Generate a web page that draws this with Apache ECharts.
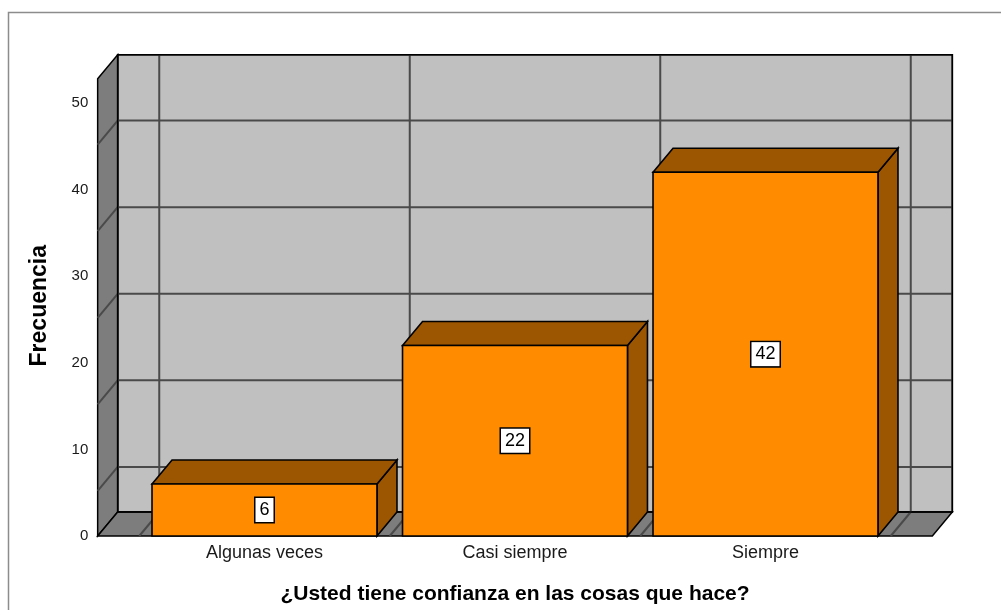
<!DOCTYPE html>
<html>
<head>
<meta charset="utf-8">
<script src="https://cdn.jsdelivr.net/npm/echarts@6/dist/echarts.min.js"></script>
<style>
  html, body { margin: 0; padding: 0; background: #fff; }
  #main { width: 1001px; height: 610px; }
</style>
</head>
<body>
<div id="main"></div>
<script>
// datos
var categorias = ['Algunas veces', 'Casi siempre', 'Siempre'];
var frecuencias = [6, 22, 42];
var yTicks = [0, 10, 20, 30, 40, 50];
// lineas de la pared del fondo
var lineasFondo = [5.2, 15.2, 25.2, 35.2, 45.2];
var techo = 52.8;

// estilo 3d
var DX = 20, DY = -24;
var PAD = 0.166;      // margen lateral del piso, en anchos de banda
var ANCHO = 0.898;    // ancho de barra, fraccion de banda
var colFrente = '#FF8C00', colLado = '#9C5500';
var colPared = '#C0C0C0', colLateral = '#7D7D7D', colGrid = '#4A4A4A';
var fuente = '"Liberation Sans", Arial, sans-serif';

var chart = echarts.init(document.getElementById('main'));

function poly(pts, fill, stroke, lw) {
  return { type: 'polygon', shape: { points: pts },
    style: { fill: fill, stroke: stroke, lineWidth: lw } };
}
function line(a, b) {
  return { type: 'line', shape: { x1: a[0], y1: a[1], x2: b[0], y2: b[1] },
    style: { stroke: colGrid, lineWidth: 2 } };
}

// paredes, piso y cuadricula
function fondo(params, api) {
  var band = api.size([1, 0])[0];
  var c0 = api.coord([0, 0]);
  var c2 = api.coord([categorias.length - 1, 0]);
  var L = c0[0] - band / 2 - PAD * band;
  var R = c2[0] + band / 2 + PAD * band;
  var y0 = c0[1];
  var yT = api.coord([0, techo])[1];
  var kids = [];
  kids.push(poly([[L + DX, yT + DY], [R + DX, yT + DY], [R + DX, y0 + DY], [L + DX, y0 + DY]], colPared, '#000', 1.5));
  kids.push(poly([[L, yT], [L + DX, yT + DY], [L + DX, y0 + DY], [L, y0]], colLateral, '#000', 1.5));
  kids.push(poly([[L, y0], [L + DX, y0 + DY], [R + DX, y0 + DY], [R, y0]], colLateral, '#000', 1.5));
  lineasFondo.forEach(function (v) {
    var y = api.coord([0, v])[1];
    kids.push(line([L + DX, y + DY], [R + DX, y + DY]));
    kids.push(line([L, y], [L + DX, y + DY]));
  });
  for (var i = 0; i <= categorias.length; i++) {
    var x = c0[0] + (i - 0.5) * band;
    kids.push(line([x + DX, yT + DY], [x + DX, y0 + DY]));
    kids.push(line([x, y0], [x + DX, y0 + DY]));
  }
  // re-trazar bordes
  kids.push({ type: 'rect', shape: { x: L + DX, y: yT + DY, width: R - L, height: y0 - yT },
    style: { fill: null, stroke: '#000', lineWidth: 1.5 } });
  return { type: 'group', children: kids };
}

function barra(params, api) {
  var i = api.value(0), v = api.value(1);
  var band = api.size([1, 0])[0];
  var top = api.coord([i, v]);
  var base = api.coord([i, 0]);
  var w = band * ANCHO;
  var x0 = top[0] - w / 2, x1 = top[0] + w / 2;
  var yT = top[1], yB = base[1];
  return {
    type: 'group',
    children: [
      poly([[x1, yT], [x1 + DX, yT + DY], [x1 + DX, yB + DY], [x1, yB]], colLado, '#000', 1.6),
      poly([[x0, yT], [x0 + DX, yT + DY], [x1 + DX, yT + DY], [x1, yT]], colLado, '#000', 1.6),
      { type: 'rect', shape: { x: x0, y: yT, width: w, height: yB - yT },
        style: { fill: colFrente, stroke: '#000', lineWidth: 1.6 } },
      { type: 'text', x: top[0], y: (yT + yB) / 2,
        style: { text: String(v), fill: '#000', font: '18px ' + fuente,
          align: 'center', verticalAlign: 'middle',
          backgroundColor: '#fff', borderColor: '#000', borderWidth: 1.5,
          padding: [4, 4, 2, 4] } }
    ]
  };
}

chart.setOption({
  animation: false,
  backgroundColor: '#fff',
  graphic: [
    { type: 'rect', left: 6, top: 10, shape: { width: 1100, height: 700 },
      style: { fill: null, stroke: '#8C8C8C', lineWidth: 1.5 }, z: 0 },
    { type: 'text', left: 28, top: 245, rotation: Math.PI / 2,
      style: { text: 'Frecuencia', font: 'bold 23px ' + fuente, fill: '#000' } }
  ],
  grid: { left: 139.25, right: 110.25, top: 103, bottom: 74, outerBoundsMode: 'none' },
  xAxis: {
    type: 'category',
    data: categorias,
    axisLine: { show: false },
    axisTick: { show: false },
    axisLabel: { margin: 8, color: '#1a1a1a', fontSize: 18, fontFamily: fuente },
    name: '¿Usted tiene confianza en las cosas que hace?',
    nameLocation: 'middle',
    nameGap: 48,
    nameTextStyle: { fontSize: 21, fontWeight: 'bold', color: '#000', fontFamily: fuente }
  },
  yAxis: {
    type: 'value',
    min: yTicks[0],
    max: yTicks[yTicks.length - 1],
    interval: 10,
    axisLine: { show: false },
    axisTick: { show: false },
    splitLine: { show: false },
    axisLabel: { margin: 51, color: '#1a1a1a', fontSize: 15, fontFamily: fuente }
  },
  series: [
    { type: 'custom', renderItem: fondo, data: [[0, 0]], silent: true, z: 1, clip: false },
    { type: 'custom', renderItem: barra, z: 2, clip: false,
      data: frecuencias.map(function (v, i) { return [i, v]; }) }
  ]
});
</script>
</body>
</html>
